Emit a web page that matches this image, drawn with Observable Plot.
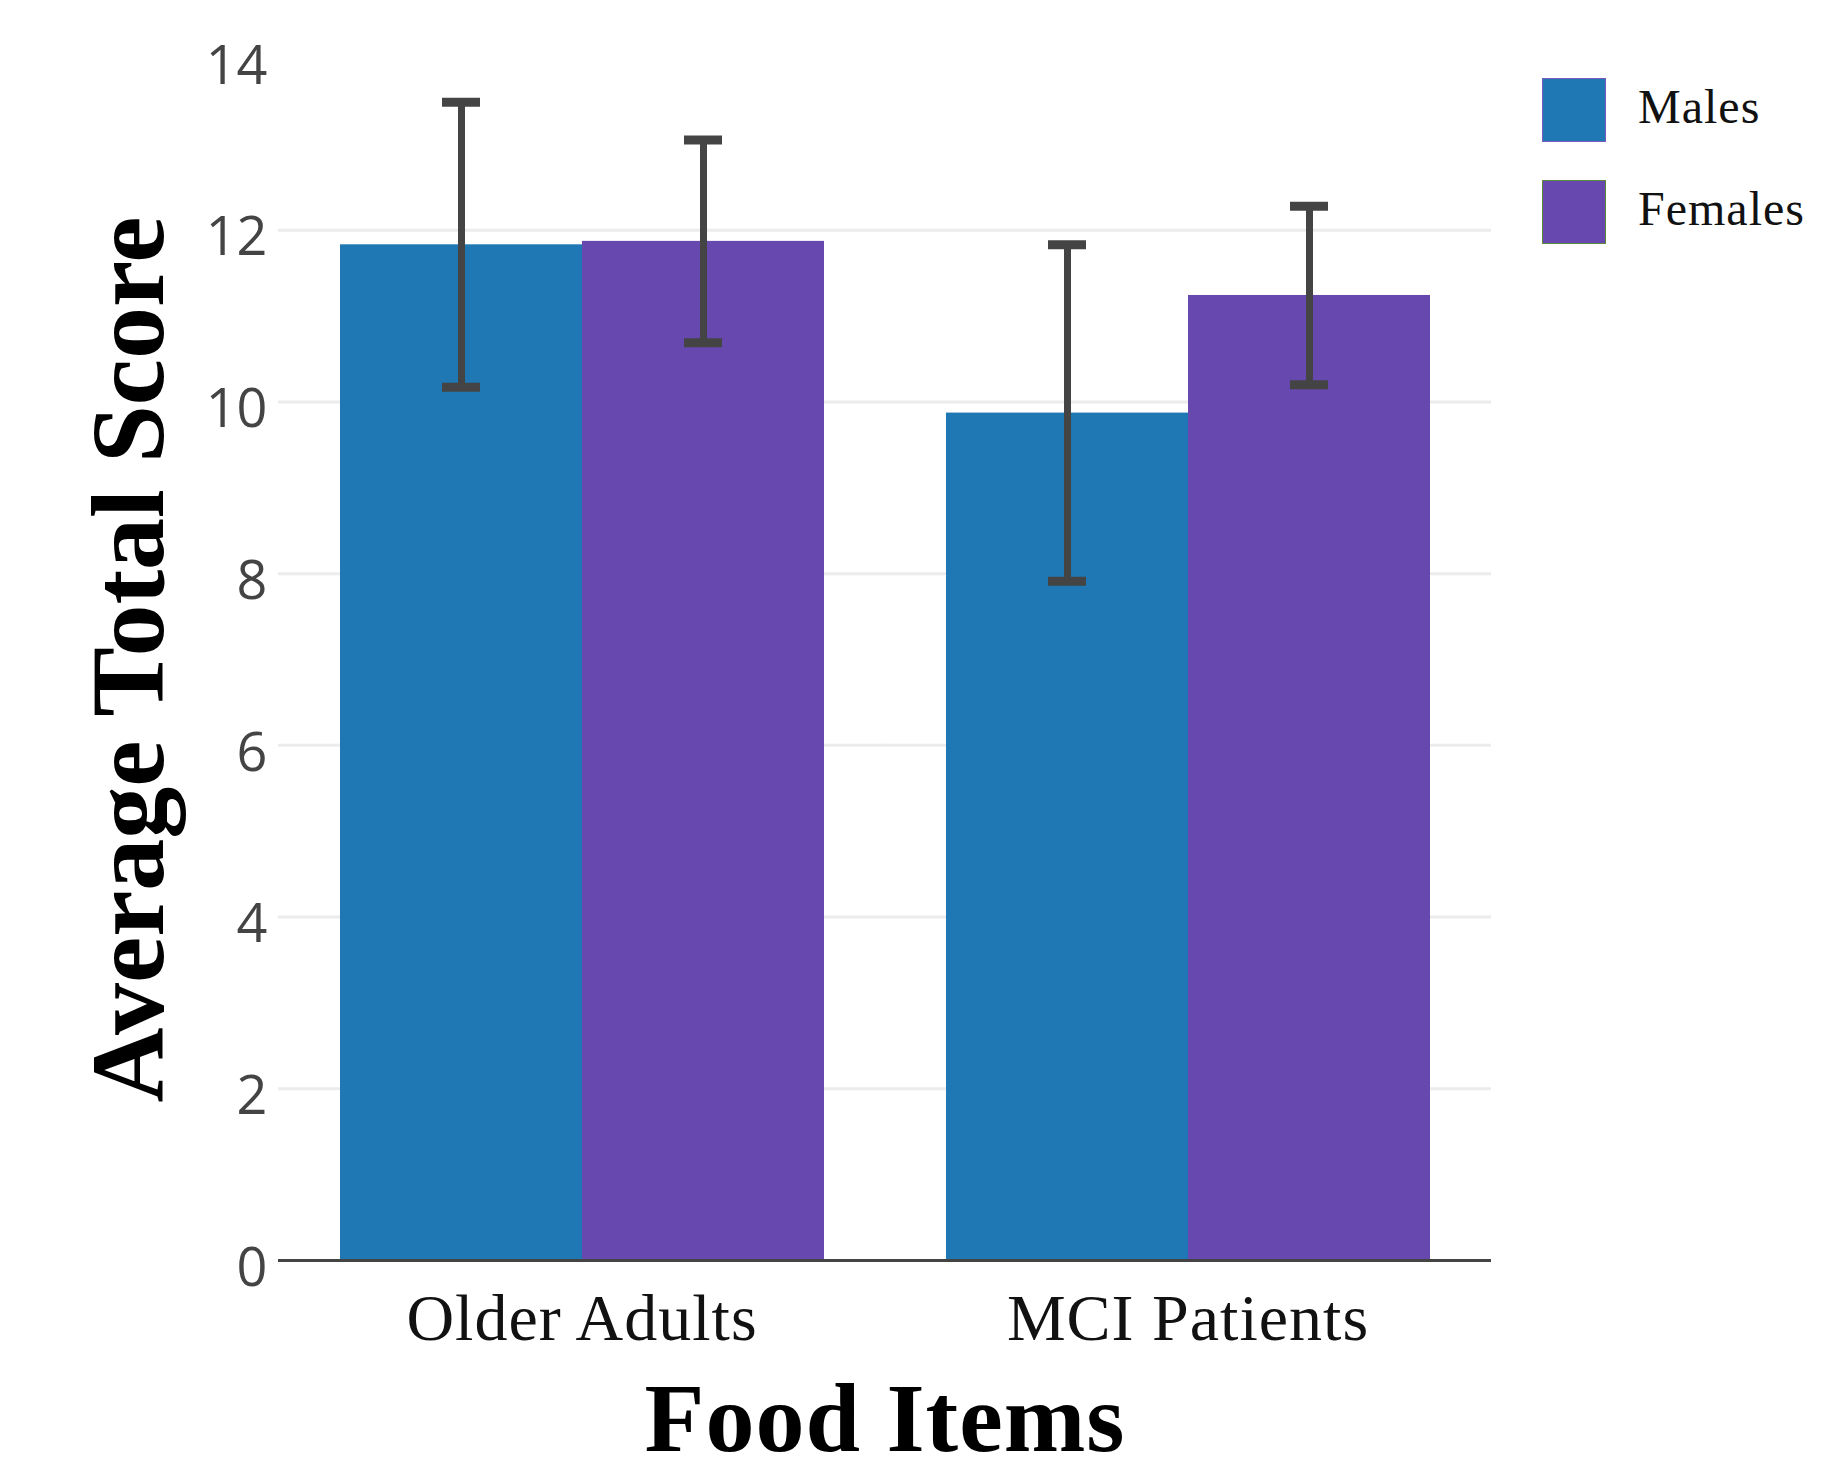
<!DOCTYPE html>
<html>
<head>
<meta charset="utf-8">
<script src="https://cdn.jsdelivr.net/npm/d3@7"></script>
<script src="https://cdn.jsdelivr.net/npm/@observablehq/plot@0.6"></script>
<style>
  html, body { margin: 0; padding: 0; background: #fff; }
  #wrap { position: relative; width: 1842px; height: 1470px; }
  #legend { position: absolute; left: 0; top: 0; font-family: "Liberation Serif", serif; }
  .sw { position: absolute; width: 64px; height: 64px; box-sizing: border-box; }
  .lt { position: absolute; font-size: 48px; line-height: 1; color: #111; letter-spacing: 1px; }
  svg [aria-label="y-axis label"] text,
  svg [aria-label="y-axis label"] {
    font-family: "Liberation Serif", serif; font-weight: bold; font-size: 104px; fill: #000;
  }
  svg [aria-label="fx-axis label"] text,
  svg [aria-label="fx-axis label"] {
    font-family: "Liberation Serif", serif; font-weight: bold; font-size: 98px; fill: #000;
    letter-spacing: 1px;
  }
  svg [aria-label="fx-axis tick label"] text { letter-spacing: 1px; }
</style>
</head>
<body>
<div id="wrap"><div id="chart"></div><div id="legend"></div></div>
<script>
const groups = ["Older Adults", "MCI Patients"];
const sexes = ["Males", "Females"];
const maleMeans = [11.83, 9.87];
const femaleMeans = [11.87, 11.24];
const maleErrs = [1.66, 1.96];
const femaleErrs = [1.18, 1.04];
const yTicks = [0, 2, 4, 6, 8, 10, 12, 14];
const colors = ["#1f77b4", "#6648af"];

const rows = groups.flatMap((g, i) => [
  {group: g, sex: sexes[0], mean: maleMeans[i], err: maleErrs[i]},
  {group: g, sex: sexes[1], mean: femaleMeans[i], err: femaleErrs[i]}
]);

// gridlines run through the gaps between facets: extend each facet's rule by half the gap
const ext = -61;

const chart = Plot.plot({
  width: 1842,
  height: 1470,
  marginLeft: 278,
  marginRight: 351,
  marginTop: 58,
  marginBottom: 210,
  style: {background: "white", fontFamily: "Open Sans, sans-serif"},
  fx: {domain: groups, paddingInner: 0.2, paddingOuter: 0.1},
  x: {domain: sexes, padding: 0, axis: null},
  y: {domain: [0, 14], axis: null},
  color: {domain: sexes, range: colors},
  marks: [
    Plot.ruleY(yTicks.filter(d => d > 0 && d < 14), {stroke: "#ececec", strokeWidth: 3, insetLeft: ext, insetRight: ext}),
    Plot.barY(rows, {fx: "group", x: "sex", y: "mean", fill: "sex"}),
    Plot.ruleX(rows, {fx: "group", x: "sex", y1: d => d.mean - d.err, y2: d => d.mean + d.err, stroke: "#444", strokeWidth: 7}),
    Plot.tickY(rows, {fx: "group", x: "sex", y: d => d.mean - d.err, stroke: "#444", strokeWidth: 9, insetLeft: 102, insetRight: 102}),
    Plot.tickY(rows, {fx: "group", x: "sex", y: d => d.mean + d.err, stroke: "#444", strokeWidth: 9, insetLeft: 102, insetRight: 102}),
    Plot.ruleY([0], {stroke: "#444", strokeWidth: 3, insetLeft: ext, insetRight: ext}),
    Plot.axisY({ticks: yTicks, tickSize: 0, tickPadding: 72, dy: 8, fontSize: 54, color: "#444",
      label: "Average Total Score", labelAnchor: "center", labelArrow: "none", labelOffset: 250}),
    Plot.axisFx({anchor: "bottom", tickSize: 0, tickPadding: 33, fontSize: 66, fontFamily: "Liberation Serif, serif", color: "#111",
      label: "Food Items", labelAnchor: "center", labelArrow: "none", labelOffset: 190})
  ]
});
document.getElementById("chart").appendChild(chart);

// Legend (right side, vertical)
const legend = document.getElementById("legend");
const swTops = [78, 180];
const borders = ["#7a5bc0", "#5a8a3a"];
sexes.forEach((s, i) => {
  const sw = document.createElement("div");
  sw.className = "sw";
  sw.style.left = "1542px";
  sw.style.top = swTops[i] + "px";
  sw.style.background = colors[i];
  sw.style.border = "1.5px solid " + borders[i];
  legend.appendChild(sw);
  const t = document.createElement("div");
  t.className = "lt";
  t.style.left = "1638px";
  t.style.top = (swTops[i] + 5) + "px";
  t.textContent = s;
  legend.appendChild(t);
});
</script>
</body>
</html>
